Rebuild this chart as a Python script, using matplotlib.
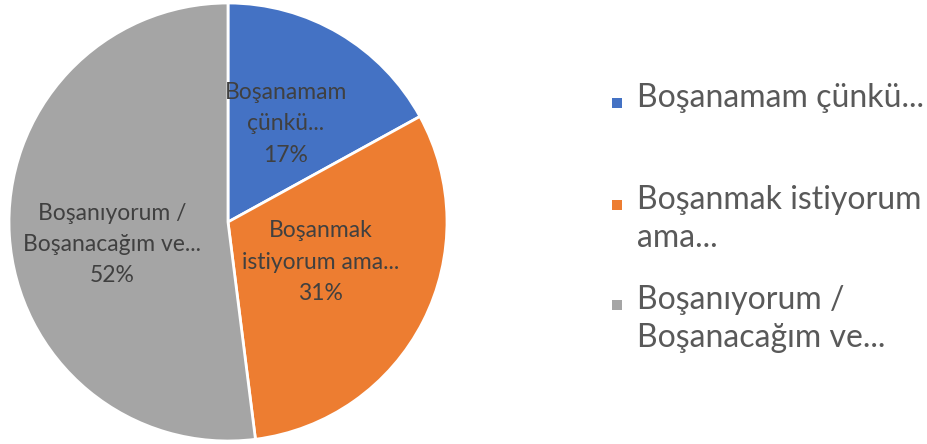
import matplotlib
matplotlib.use("Agg")
import numpy as np
import matplotlib.pyplot as plt
from matplotlib.patches import Rectangle

plt.rcParams["font.family"] = ["Lato", "DejaVu Sans"]

labels = ["Boşanamam\nçünkü...", "Boşanmak\nistiyorum ama...", "Boşanıyorum /\nBoşanacağım ve..."]
legend_labels = ["Boşanamam çünkü...", "Boşanmak istiyorum\nama...", "Boşanıyorum /\nBoşanacağım ve..."]
values = [17, 31, 52]
colors = ["#4472C4", "#ED7D31", "#A5A5A5"]

fig = plt.figure(figsize=(9.28, 4.44), dpi=100)
ax = fig.add_axes([9 / 928, 3 / 444, 438 / 928, 438 / 444])

wedges, texts = ax.pie(
    values, colors=colors, startangle=90, counterclock=False,
    wedgeprops=dict(edgecolor="white", linewidth=2),
)
ax.set_xlim(-1, 1)
ax.set_ylim(-1, 1)
ax.set_aspect("equal")

# Excel's "best fit" label spots: radius fraction and a small angle nudge
label_r = [0.52, 0.46, 0.54]
label_nudge = [0, 3.5, 7.5]
for w, lab, v, r, dn in zip(wedges, labels, values, label_r, label_nudge):
    mid = np.deg2rad((w.theta1 + w.theta2) / 2 + dn)
    ax.text(r * np.cos(mid), r * np.sin(mid), f"{lab}\n{v}%", ha="center", va="center",
            fontsize=16.5, color="#404040", linespacing=1.6)

# legend drawn by hand so the marker sits on the first line, as in the source
leg_y = [103, 205, 305]
for lab, c, y in zip(legend_labels, colors, leg_y):
    fy = 1 - y / 444
    fig.add_artist(Rectangle((612 / 928, fy - 5 / 444), 10 / 928, 10 / 444,
                             transform=fig.transFigure, color=c, lw=0))
    fig.text(637 / 928, fy + 20 / 444, lab, ha="left", va="top", fontsize=23,
             color="#595959", linespacing=1.32)

fig.savefig("out.png", dpi=100)
